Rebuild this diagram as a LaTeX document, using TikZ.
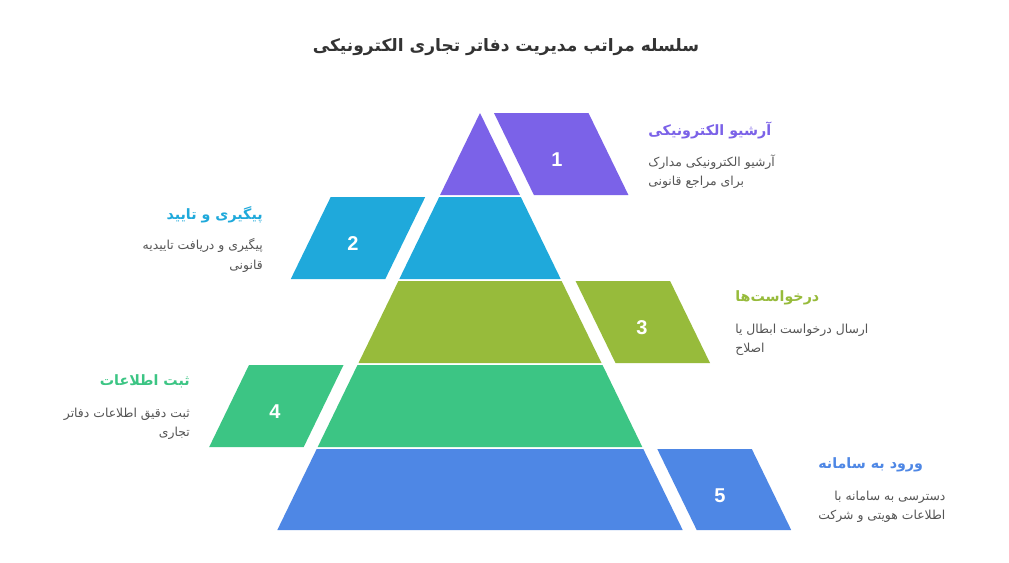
\documentclass[tikz,border=0pt]{standalone}
\usepackage{fontspec}
\setmainfont{Liberation Sans}
\newfontfamily\arabicfont[Script=Arabic]{DejaVu Sans}
\TeXXeTstate=1
\newcommand{\rl}[1]{\beginR #1\endR}
\definecolor{cA}{HTML}{7B62E8}
\definecolor{cB}{HTML}{1FA9DB}
\definecolor{cC}{HTML}{97BB3B}
\definecolor{cD}{HTML}{3CC584}
\definecolor{cE}{HTML}{4E87E5}
\definecolor{txt}{HTML}{333333}
\definecolor{dtxt}{HTML}{555555}
\tikzset{
  num/.style={text=white, font=\fontsize{15}{18}\selectfont\bfseries, inner sep=0pt},
  ttl/.style={font=\arabicfont\bfseries\fontsize{10.7}{14}\selectfont, inner sep=0pt},
  dsc/.style={font=\arabicfont\fontsize{9.3}{14.5}\selectfont, text=dtxt, inner sep=0pt},
}
\begin{document}
\begin{tikzpicture}[x=0.75pt,y=-0.75pt]
\useasboundingbox (0,0) rectangle (1009,562);
\fill[white] (0,0) rectangle (1009,562);
% main title
\node[font=\arabicfont\bfseries\fontsize{12.8}{16}\selectfont, text=txt, inner sep=0pt] (title) at (506,47) {\rl{سلسله مراتب مدیریت دفاتر تجاری الکترونیکی}};
% layer 1
\fill[cA] (480,113) -- (519.9,195) -- (440.1,195) -- cycle;
\fill[cA] (494,113) -- (588.5,113) -- (628.4,195) -- (533.9,195) -- cycle;
% layer 2
\fill[cB] (439.2,197) -- (520.8,197) -- (560.7,279) -- (399.3,279) -- cycle;
\fill[cB] (330.7,197) -- (425.2,197) -- (385.3,279) -- (290.8,279) -- cycle;
% layer 3
\fill[cC] (398.4,281) -- (561.6,281) -- (601.5,363) -- (358.5,363) -- cycle;
\fill[cC] (575.6,281) -- (670.1,281) -- (710,363) -- (615.5,363) -- cycle;
% layer 4
\fill[cD] (357.5,365) -- (602.5,365) -- (642.3,447) -- (317.7,447) -- cycle;
\fill[cD] (249,365) -- (343.5,365) -- (303.7,447) -- (209.2,447) -- cycle;
% layer 5
\fill[cE] (316.7,449) -- (643.3,449) -- (682.7,530) -- (277.3,530) -- cycle;
\fill[cE] (657.3,449) -- (751.8,449) -- (791.2,530) -- (696.7,530) -- cycle;
% numbers
\node[num] (n1) at (557,160) {1};
\node[num] (n2) at (353,244) {2};
\node[num] (n3) at (642,328) {3};
\node[num] (n4) at (275,412) {4};
\node[num] (n5) at (720,496) {5};
% item 1
\node[ttl, text=cA, anchor=west] (t1) at (648,130) {\rl{آرشیو الکترونیکی}};
\node[dsc, anchor=west, align=left] (d1) at (648,171.5) {\rl{آرشیو الکترونیکی مدارک}\\\rl{برای مراجع قانونی}};
% item 2
\node[ttl, text=cB, anchor=east] (t2) at (263,215) {\rl{پیگیری و تایید}};
\node[dsc, anchor=east, align=right] (d2) at (263,255.5) {\rl{پیگیری و دریافت تاییدیه}\\\rl{قانونی}};
% item 3
\node[ttl, text=cC, anchor=west] (t3) at (735,298) {\rl{درخواست^^^^200cها}};
\node[dsc, anchor=west, align=left] (d3) at (735,339.5) {\rl{ارسال درخواست ابطال یا}\\\rl{اصلاح}};
% item 4
\node[ttl, text=cD, anchor=east] (t4) at (190,381) {\rl{ثبت اطلاعات}};
\node[dsc, anchor=east, align=right] (d4) at (190,423.5) {\rl{ثبت دقیق اطلاعات دفاتر}\\\rl{تجاری}};
% item 5
\node[ttl, text=cE, anchor=west] (t5) at (818,465) {\rl{ورود به سامانه}};
\node[dsc, anchor=west, align=right] (d5) at (818,506.5) {\rl{دسترسی به سامانه با}\\\rl{اطلاعات هویتی و شرکت}};
\end{tikzpicture}
\end{document}
